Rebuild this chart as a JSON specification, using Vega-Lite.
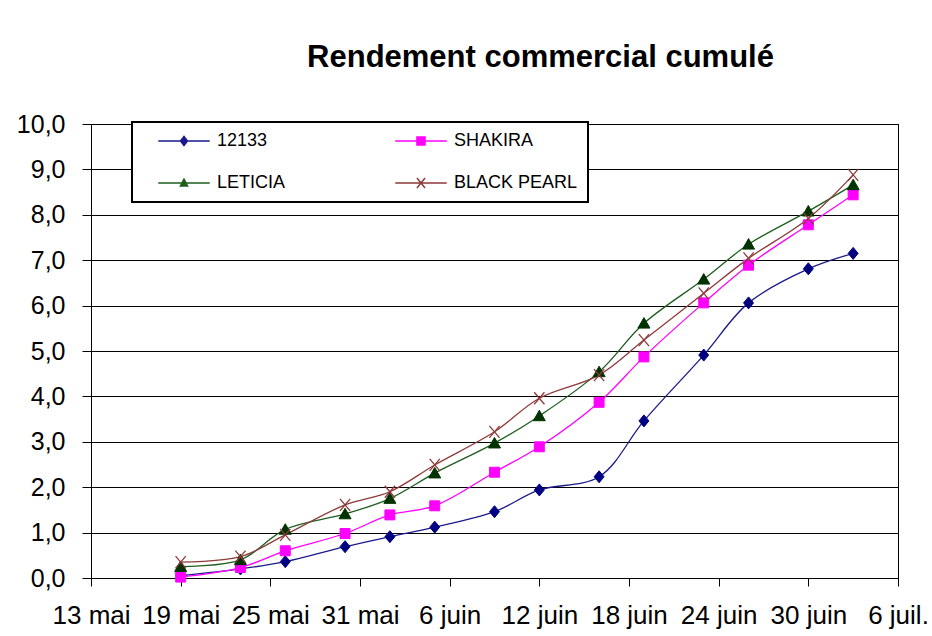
{
  "$schema": "https://vega.github.io/schema/vega-lite/v6.json",
  "width": 807,
  "height": 454,
  "autosize": {"type": "none"},
  "padding": {"left": 91, "top": 124, "right": 34, "bottom": 58},
  "background": "white",
  "title": {
    "text": "Rendement commercial cumulé",
    "font": "Liberation Sans",
    "fontSize": 31,
    "fontWeight": "bold",
    "color": "black",
    "anchor": "middle",
    "dx": 46,
    "offset": 38
  },
  "config": {
    "locale": {
      "number": {"decimal": ",", "thousands": "\u00a0", "grouping": [3], "currency": ["", "\u00a0€"]},
      "time": {
        "dateTime": "%A %e %B %Y à %X",
        "date": "%d/%m/%Y",
        "time": "%H:%M:%S",
        "periods": ["AM", "PM"],
        "days": ["dimanche", "lundi", "mardi", "mercredi", "jeudi", "vendredi", "samedi"],
        "shortDays": ["dim.", "lun.", "mar.", "mer.", "jeu.", "ven.", "sam."],
        "months": ["janvier", "février", "mars", "avril", "mai", "juin", "juillet", "août", "septembre", "octobre", "novembre", "décembre"],
        "shortMonths": ["janv.", "févr.", "mars", "avr.", "mai", "juin", "juil.", "août", "sept.", "oct.", "nov.", "déc."]
      }
    },
    "view": {"stroke": "black", "strokeWidth": 1},
    "axis": {
      "labelFont": "Liberation Sans",
      "labelColor": "black",
      "domainColor": "black",
      "tickColor": "black",
      "title": null
    },
    "legend": {
      "title": null,
      "orient": "none",
      "direction": "horizontal",
      "legendX": 41,
      "legendY": -2,
      "columns": 2,
      "padding": 10,
      "symbolSize": 169,
      "symbolStrokeWidth": 1.5,
      "symbolOpacity": 1,
      "symbolOffset": 33,
      "labelOffset": 24,
      "rowPadding": 24,
      "columnPadding": 93,
      "labelFont": "Liberation Sans",
      "labelFontSize": 18,
      "labelColor": "black",
      "strokeColor": "black",
      "strokeWidth": 2,
      "fillColor": "white"
    }
  },
  "data": {
    "values": [
      {"date": "2009-05-19", "series": "12133", "value": 0.05},
      {"date": "2009-05-23", "series": "12133", "value": 0.2},
      {"date": "2009-05-26", "series": "12133", "value": 0.36},
      {"date": "2009-05-30", "series": "12133", "value": 0.69},
      {"date": "2009-06-02", "series": "12133", "value": 0.91},
      {"date": "2009-06-05", "series": "12133", "value": 1.12},
      {"date": "2009-06-09", "series": "12133", "value": 1.46},
      {"date": "2009-06-12", "series": "12133", "value": 1.94},
      {"date": "2009-06-16", "series": "12133", "value": 2.23},
      {"date": "2009-06-19", "series": "12133", "value": 3.46},
      {"date": "2009-06-23", "series": "12133", "value": 4.91},
      {"date": "2009-06-26", "series": "12133", "value": 6.06},
      {"date": "2009-06-30", "series": "12133", "value": 6.81},
      {"date": "2009-07-03", "series": "12133", "value": 7.15},
      {"date": "2009-05-19", "series": "SHAKIRA", "value": 0.02},
      {"date": "2009-05-23", "series": "SHAKIRA", "value": 0.23},
      {"date": "2009-05-26", "series": "SHAKIRA", "value": 0.6},
      {"date": "2009-05-30", "series": "SHAKIRA", "value": 0.98},
      {"date": "2009-06-02", "series": "SHAKIRA", "value": 1.39},
      {"date": "2009-06-05", "series": "SHAKIRA", "value": 1.59},
      {"date": "2009-06-09", "series": "SHAKIRA", "value": 2.33},
      {"date": "2009-06-12", "series": "SHAKIRA", "value": 2.89},
      {"date": "2009-06-16", "series": "SHAKIRA", "value": 3.87},
      {"date": "2009-06-19", "series": "SHAKIRA", "value": 4.87},
      {"date": "2009-06-23", "series": "SHAKIRA", "value": 6.06},
      {"date": "2009-06-26", "series": "SHAKIRA", "value": 6.89},
      {"date": "2009-06-30", "series": "SHAKIRA", "value": 7.78},
      {"date": "2009-07-03", "series": "SHAKIRA", "value": 8.44},
      {"date": "2009-05-19", "series": "LETICIA", "value": 0.25},
      {"date": "2009-05-23", "series": "LETICIA", "value": 0.4},
      {"date": "2009-05-26", "series": "LETICIA", "value": 1.07},
      {"date": "2009-05-30", "series": "LETICIA", "value": 1.41},
      {"date": "2009-06-02", "series": "LETICIA", "value": 1.75},
      {"date": "2009-06-05", "series": "LETICIA", "value": 2.31},
      {"date": "2009-06-09", "series": "LETICIA", "value": 2.97},
      {"date": "2009-06-12", "series": "LETICIA", "value": 3.57},
      {"date": "2009-06-16", "series": "LETICIA", "value": 4.54},
      {"date": "2009-06-19", "series": "LETICIA", "value": 5.61},
      {"date": "2009-06-23", "series": "LETICIA", "value": 6.58},
      {"date": "2009-06-26", "series": "LETICIA", "value": 7.35},
      {"date": "2009-06-30", "series": "LETICIA", "value": 8.08},
      {"date": "2009-07-03", "series": "LETICIA", "value": 8.66},
      {"date": "2009-05-19", "series": "BLACK PEARL", "value": 0.35},
      {"date": "2009-05-23", "series": "BLACK PEARL", "value": 0.47},
      {"date": "2009-05-26", "series": "BLACK PEARL", "value": 0.95},
      {"date": "2009-05-30", "series": "BLACK PEARL", "value": 1.61},
      {"date": "2009-06-02", "series": "BLACK PEARL", "value": 1.9},
      {"date": "2009-06-05", "series": "BLACK PEARL", "value": 2.49},
      {"date": "2009-06-09", "series": "BLACK PEARL", "value": 3.22},
      {"date": "2009-06-12", "series": "BLACK PEARL", "value": 3.96},
      {"date": "2009-06-16", "series": "BLACK PEARL", "value": 4.47},
      {"date": "2009-06-19", "series": "BLACK PEARL", "value": 5.24},
      {"date": "2009-06-23", "series": "BLACK PEARL", "value": 6.27},
      {"date": "2009-06-26", "series": "BLACK PEARL", "value": 7.04},
      {"date": "2009-06-30", "series": "BLACK PEARL", "value": 7.92},
      {"date": "2009-07-03", "series": "BLACK PEARL", "value": 8.88}
    ]
  },
  "encoding": {
    "x": {
      "field": "date",
      "type": "temporal",
      "scale": {
        "type": "utc",
        "domain": [
          {"year": 2009, "month": 5, "date": 13, "utc": true},
          {"year": 2009, "month": 7, "date": 6, "utc": true}
        ]
      },
      "axis": {
        "values": [
          {"year": 2009, "month": 5, "date": 13, "utc": true},
          {"year": 2009, "month": 5, "date": 19, "utc": true},
          {"year": 2009, "month": 5, "date": 25, "utc": true},
          {"year": 2009, "month": 5, "date": 31, "utc": true},
          {"year": 2009, "month": 6, "date": 6, "utc": true},
          {"year": 2009, "month": 6, "date": 12, "utc": true},
          {"year": 2009, "month": 6, "date": 18, "utc": true},
          {"year": 2009, "month": 6, "date": 24, "utc": true},
          {"year": 2009, "month": 6, "date": 30, "utc": true},
          {"year": 2009, "month": 7, "date": 6, "utc": true}
        ],
        "labelExpr": "utcFormat(datum.value, '%-d %b')",
        "grid": false,
        "labelFontSize": 26,
        "tickSize": 8,
        "labelPadding": 16,
        "labelOverlap": false,
        "labelFlush": false
      }
    },
    "y": {
      "field": "value",
      "type": "quantitative",
      "scale": {"domain": [0, 10], "nice": false},
      "axis": {
        "values": [0, 1, 2, 3, 4, 5, 6, 7, 8, 9, 10],
        "format": ".1f",
        "grid": true,
        "gridColor": "black",
        "gridOpacity": 1,
        "gridWidth": 1,
        "labelFontSize": 25,
        "tickSize": 9,
        "labelPadding": 17
      }
    }
  },
  "layer": [
    {
      "mark": {"type": "line", "interpolate": "catmull-rom", "strokeWidth": 1.3},
      "encoding": {
        "color": {
          "field": "series",
          "type": "nominal",
          "scale": {
            "domain": ["12133", "SHAKIRA", "LETICIA", "BLACK PEARL"],
            "range": ["#1a1a8c", "#ff00ff", "#1d5e1d", "#8e3a3a"]
          }
        }
      }
    },
    {
      "mark": {"type": "point", "filled": true, "size": 169, "opacity": 0},
      "encoding": {
        "color": {"field": "series", "type": "nominal"},
        "stroke": {
          "field": "series",
          "type": "nominal",
          "scale": {
            "domain": ["12133", "SHAKIRA", "LETICIA", "BLACK PEARL"],
            "range": ["#1a1a8c", "#ff00ff", "#1d5e1d", "#8e3a3a"]
          }
        },
        "shape": {
          "field": "series",
          "type": "nominal",
          "scale": {
            "domain": ["12133", "SHAKIRA", "LETICIA", "BLACK PEARL"],
            "range": [
              "M-3.96,0L3.96,0M0,-0.69L0.54,0L0,0.69L-0.54,0Z",
              "M-3.96,0L3.96,0M-0.62,-0.62L0.62,-0.62L0.62,0.62L-0.62,0.62Z",
              "M-3.96,0L3.96,0M0,-0.6L0.55,0.45L-0.55,0.45Z",
              "M-3.96,0L3.96,0M-0.62,-0.77L0.62,0.77M-0.62,0.77L0.62,-0.77"
            ]
          }
        }
      }
    },
    {
      "transform": [{"filter": "datum.series === '12133'"}],
      "mark": {"type": "point", "filled": true, "size": 144, "opacity": 1, "shape": "M0,-1L0.83,0L0,1L-0.83,0Z", "fill": "#000080", "stroke": "#000080", "strokeWidth": 1}
    },
    {
      "transform": [{"filter": "datum.series === 'SHAKIRA'"}],
      "mark": {"type": "point", "filled": true, "size": 144, "opacity": 1, "shape": "M-0.83,-0.83L0.83,-0.83L0.83,0.83L-0.83,0.83Z", "fill": "#ff00ff", "stroke": "#ff00ff", "strokeWidth": 1}
    },
    {
      "transform": [{"filter": "datum.series === 'LETICIA'"}],
      "mark": {"type": "point", "filled": true, "size": 144, "opacity": 1, "shape": "M0,-0.95L1,0.8L-1,0.8Z", "fill": "#003300", "stroke": "#003300", "strokeWidth": 1}
    },
    {
      "transform": [{"filter": "datum.series === 'BLACK PEARL'"}],
      "mark": {"type": "point", "filled": false, "size": 144, "opacity": 1, "shape": "M-0.85,-1L0.85,1M-0.85,1L0.85,-1", "stroke": "#8e3a3a", "strokeWidth": 1.3}
    }
  ]
}
